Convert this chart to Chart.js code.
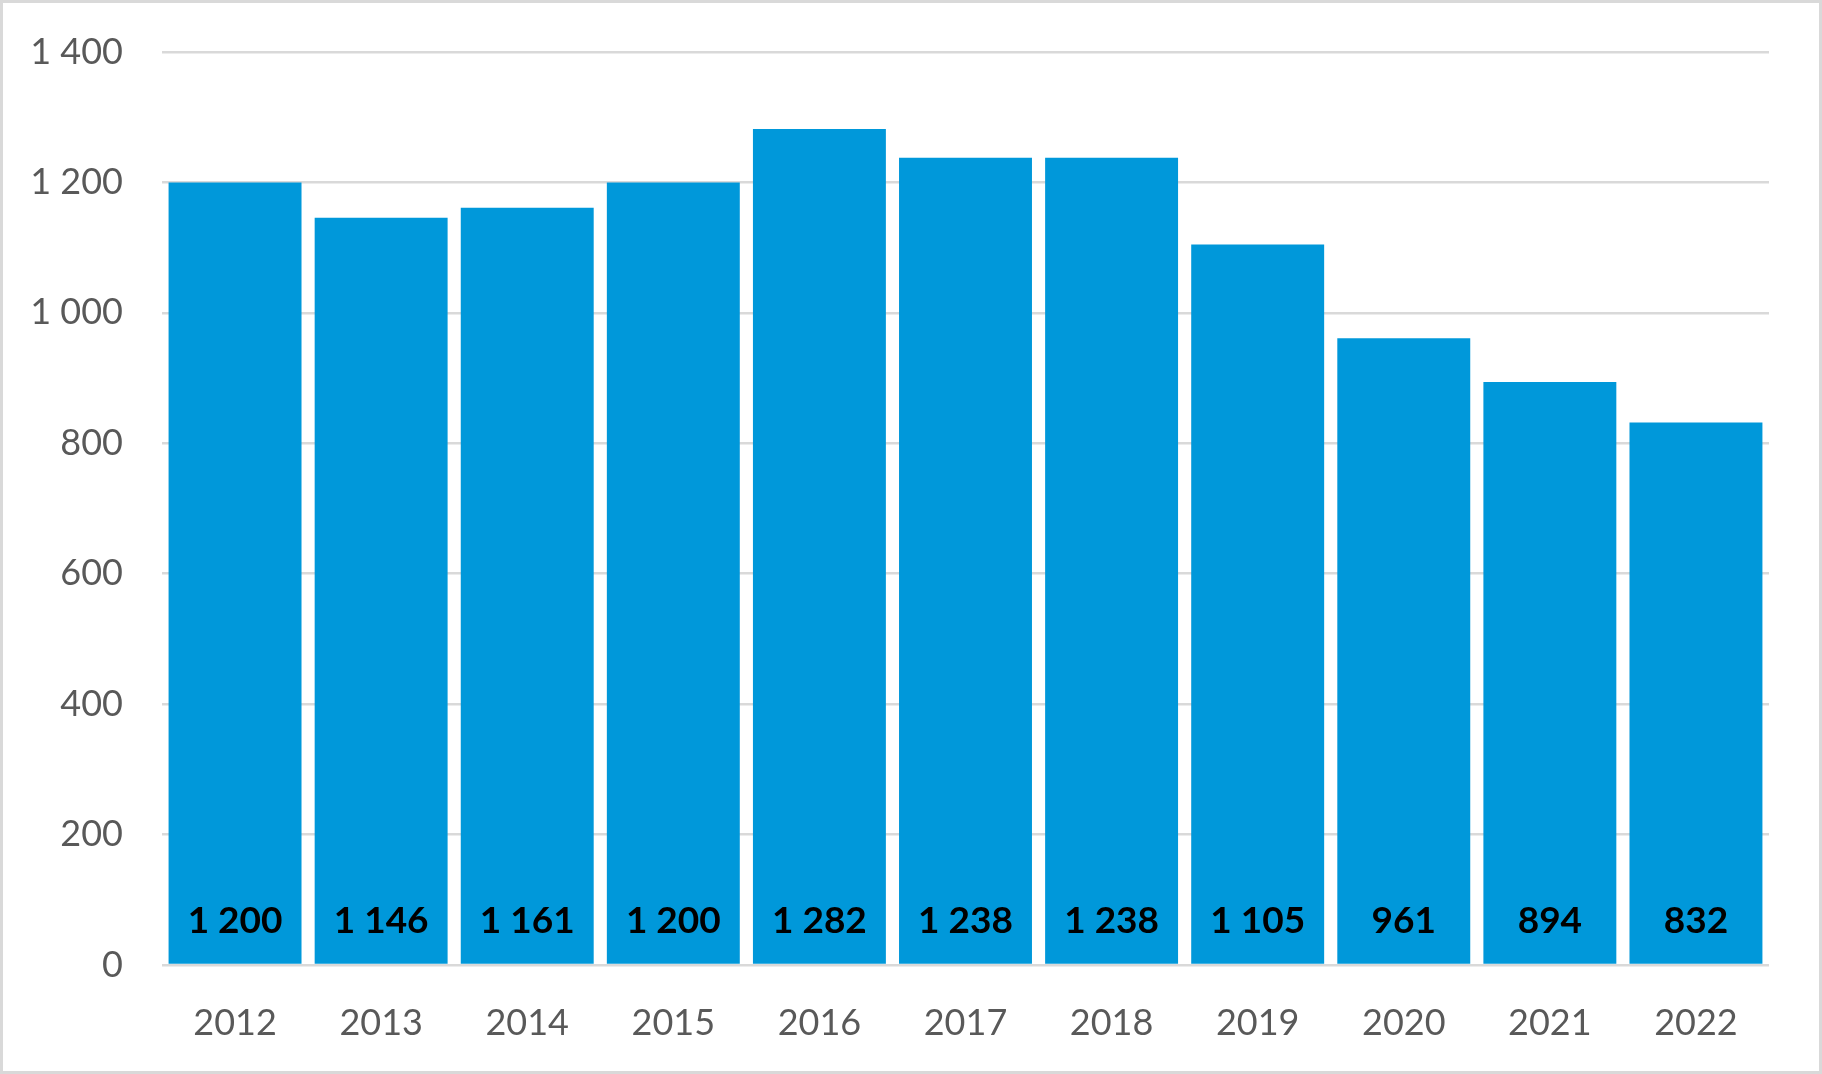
<!DOCTYPE html>
<html>
<head>
<meta charset="utf-8">
<script src="https://cdn.jsdelivr.net/npm/chart.js@4/dist/chart.umd.min.js"></script>
<style>
  html, body { margin: 0; padding: 0; background: #fff; }
  #wrap { box-sizing: border-box; width: 1822px; height: 1074px; border: 3px solid #d9d9d9; background: #fff; }
  canvas { display: block; }
</style>
</head>
<body>
<div id="wrap"><canvas id="c" width="1816" height="1068"></canvas></div>
<script>
const categories = ['2012','2013','2014','2015','2016','2017','2018','2019','2020','2021','2022'];
const values = [1200, 1146, 1161, 1200, 1282, 1238, 1238, 1105, 961, 894, 832];
const yTicks = [0, 200, 400, 600, 800, 1000, 1200, 1400];

function fmt(v) {
  return String(v).replace(/\B(?=(\d{3})+(?!\d))/g, ' ');
}

const labelPlugin = {
  id: 'barLabels',
  afterDatasetsDraw(chart) {
    const ctx = chart.ctx;
    const meta = chart.getDatasetMeta(0);
    const yScale = chart.scales.y;
    const base = yScale.getPixelForValue(0);
    ctx.save();
    ctx.font = 'bold 37px Lato';
    ctx.fillStyle = '#000000';
    ctx.textAlign = 'center';
    ctx.textBaseline = 'middle';
    meta.data.forEach((bar, i) => {
      ctx.fillText(fmt(values[i]), bar.x, base - 44);
    });
    ctx.restore();
  }
};

new Chart(document.getElementById('c'), {
  type: 'bar',
  data: {
    labels: categories,
    datasets: [{
      data: values,
      backgroundColor: '#0098da',
      borderWidth: 0,
      barPercentage: 0.91,
      categoryPercentage: 1.0
    }]
  },
  options: {
    responsive: false,
    devicePixelRatio: 1,
    animation: false,
    layout: { padding: { top: 49, right: 50, left: 0, bottom: 0 } },
    plugins: { legend: { display: false }, tooltip: { enabled: false } },
    scales: {
      x: {
        grid: { display: false },
        border: { display: false },
        ticks: { color: '#595959', font: { family: 'Lato', size: 36 }, padding: 29, maxRotation: 0 },
        afterFit(s) { s.height = 106; s.paddingLeft = 0; s.paddingRight = 0; }
      },
      y: {
        min: 0, max: 1400,
        afterBuildTicks(s) { s.ticks = yTicks.map(v => ({ value: v })); },
        grid: { color: '#d9d9d9', lineWidth: 2.5, drawTicks: false },
        border: { display: false },
        ticks: { color: '#595959', font: { family: 'Lato', size: 36 }, padding: 39, callback: v => fmt(v) },
        afterFit(s) { s.width = 159; s.paddingTop = 0; s.paddingBottom = 0; }
      }
    }
  },
  plugins: [labelPlugin]
});
</script>
</body>
</html>
